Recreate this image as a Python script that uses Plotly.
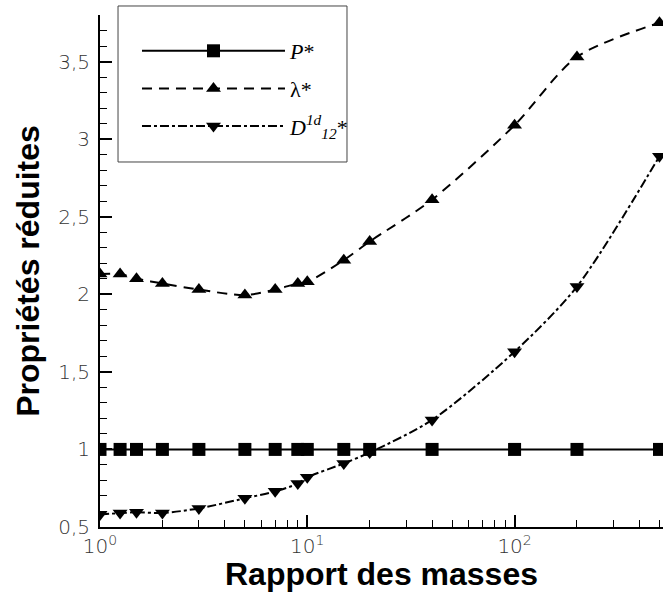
import plotly.graph_objects as go

# Données
masses = [1, 1.25, 1.5, 2, 3, 5, 7, 9, 10, 15, 20, 40, 100, 200, 500]
p_star = [1, 1, 1, 1, 1, 1, 1, 1, 1, 1, 1, 1, 1, 1, 1]
lambda_star = [2.13, 2.13, 2.10, 2.07, 2.03, 1.995, 2.03, 2.07, 2.08, 2.22, 2.34, 2.61, 3.09, 3.53, 3.75]
d12_star = [0.58, 0.59, 0.595, 0.59, 0.62, 0.685, 0.73, 0.78, 0.82, 0.91, 0.98, 1.19, 1.63, 2.05, 2.89]

xtick_vals = [1, 10, 100]
xtick_text = ["10<sup>0</sup>", "10<sup>1</sup>", "10<sup>2</sup>"]

fig = go.Figure()
fig.add_trace(go.Scatter(
    x=masses, y=p_star, name="<i>P</i>*", mode="lines+markers",
    line=dict(color="black", width=2),
    marker=dict(symbol="square", size=13, color="black"),
    legendgroup="a"
))
fig.add_trace(go.Scatter(
    x=masses, y=lambda_star, name="λ*", mode="lines+markers",
    line=dict(color="black", width=2, dash="10px,7px", shape="spline", smoothing=0.8),
    marker=dict(symbol="triangle-up", size=13, color="black"),
    legendgroup="b"
))
fig.add_trace(go.Scatter(
    x=masses, y=d12_star, name="<i>D</i><sup><i>1d</i></sup><sub><i>12</i></sub>*", mode="lines+markers",
    line=dict(color="black", width=2, dash="dashdot", shape="spline", smoothing=0.8),
    marker=dict(symbol="triangle-down", size=13, color="black"),
    legendgroup="c"
))

# cadre de la légende
fig.add_shape(type="rect", xref="paper", yref="paper",
              x0=0.032, x1=0.4387, y0=0.7129, y1=1.0176,
              line=dict(color="#444", width=1), fillcolor="white", layer="above")

tick_font = dict(family="DejaVu Sans", size=20, color="#333", weight=200)

fig.update_layout(
    width=663, height=592,
    margin=dict(l=100, r=0, t=15, b=65),
    plot_bgcolor="white", paper_bgcolor="white",
    separators=", ",
    font=dict(family="Liberation Sans", color="black"),
    xaxis=dict(
        type="log", range=[0, 2.716],
        tickvals=xtick_vals, ticktext=xtick_text,
        ticks="inside", ticklen=12, tickwidth=2, tickcolor="black",
        minor=dict(ticks="inside", ticklen=7, tickwidth=1, tickcolor="black", dtick="D1", showgrid=False),
        showline=True, linecolor="black", linewidth=2,
        showgrid=False, zeroline=False,
        tickfont=tick_font,
        title=dict(text="<b>Rapport des masses</b>", font=dict(size=32), standoff=2),
    ),
    yaxis=dict(
        range=[0.5, 3.8], dtick=0.5, tick0=0.5,
        ticks="inside", ticklen=12, tickwidth=2, tickcolor="black",
        minor=dict(ticks="inside", ticklen=7, tickwidth=1, tickcolor="black", dtick=0.1, showgrid=False),
        showline=True, linecolor="black", linewidth=2,
        showgrid=False, zeroline=False,
        tickfont=tick_font,
        ticklabelstandoff=4,
        title=dict(text="<b>Propriétés réduites</b>", font=dict(size=32), standoff=9),
    ),
    legend=dict(
        x=0.0657, y=0.9707, xanchor="left", yanchor="top",
        bgcolor="rgba(0,0,0,0)", borderwidth=0,
        font=dict(family="Liberation Serif", size=22),
        itemwidth=143, tracegroupgap=6,
    ),
)

fig.write_html("out.html", config={"displayModeBar": False},
               post_script="document.body.style.margin='0px';")
